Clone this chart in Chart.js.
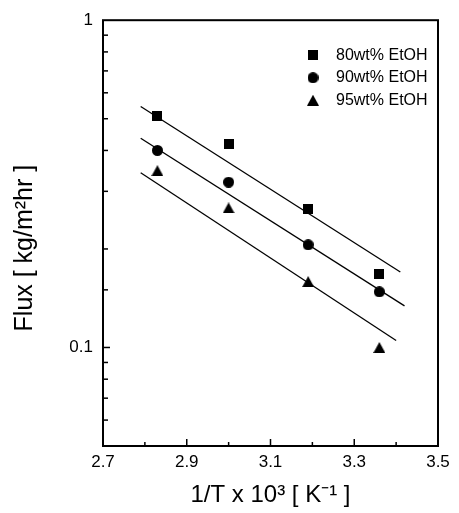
<!DOCTYPE html>
<html>
<head>
<meta charset="utf-8">
<script src="https://cdn.jsdelivr.net/npm/chart.js@4.4.1/dist/chart.umd.min.js"></script>
<style>
  html, body { margin: 0; padding: 0; background: #fff; }
  canvas { display: block; }
</style>
</head>
<body>
<canvas id="flux" width="459" height="513"></canvas>
<script>
// 1/T x 10^3 [K^-1]
const invT = [2.83, 3.00, 3.19, 3.36];
// flux [kg/m2 hr]
const flux80 = [0.51, 0.42, 0.265, 0.168];
const flux90 = [0.40, 0.32, 0.206, 0.148];
const flux95 = [0.347, 0.267, 0.159, 0.100];
// fitted lines, end points
const fit80X = [2.79, 3.41], fit80Y = [0.545, 0.170];
const fit90X = [2.79, 3.42], fit90Y = [0.436, 0.134];
const fit95X = [2.79, 3.40], fit95Y = [0.342, 0.105];
const seriesLabels = ['80wt% EtOH', '90wt% EtOH', '95wt% EtOH'];
const yLabelValues = [0.1, 1];

const FONT = "'Liberation Sans', Arial, sans-serif";

function marker(shape, w, h) {
    const c = document.createElement('canvas');
    c.width = w;
    c.height = h;
    const g = c.getContext('2d');
    g.fillStyle = '#000';
    g.beginPath();
    if (shape === 'square') g.rect(0, 0, w, h);
    else if (shape === 'circle') g.arc(w / 2, h / 2, w / 2, 0, Math.PI * 2);
    else { g.moveTo(w / 2, 0); g.lineTo(w, h); g.lineTo(0, h); g.closePath(); }
    g.fill();
    return c;
}

const pts = (xs, ys) => xs.map((x, i) => ({x: x, y: ys[i]}));

function scatterSet(label, ys, style) {
    return {label: label, data: pts(invT, ys), pointStyle: style, pointRadius: 6,
            showLine: false, backgroundColor: '#000', borderColor: '#000', borderWidth: 0};
}
function fitSet(xs, ys) {
    return {label: 'fit', data: pts(xs, ys), showLine: true, pointRadius: 0,
            borderColor: '#000', borderWidth: 1.3, fill: false};
}

// legend inside the plot (top right); y title pushed a bit lower
const placement = {
    id: 'placement',
    afterUpdate(chart) {
        const lg = chart.legend, ca = chart.chartArea;
        lg.left = ca.right - 146.5;
        lg.top = ca.top + 20.5;
        lg.right = lg.left + lg.width;
        lg.bottom = lg.top + lg.height;
        lg.adjustHitBoxes();

        const ys = chart.scales.y;
        if (!ys._shifted) {
            const orig = ys.drawTitle;
            ys.drawTitle = function () {
                const t = this.top;
                this.top += 30;
                orig.call(this);
                this.top = t;
            };
            ys._shifted = true;
        }
    }
};

// box frame and inward tick marks
const frame = {
    id: 'frame',
    afterDraw(chart) {
        const ctx = chart.ctx, ca = chart.chartArea;
        const xs = chart.scales.x, ys = chart.scales.y;
        const L = ca.left, R = ca.right, T = ca.top, B = ca.bottom;
        ctx.save();
        ctx.setLineDash([]);
        ctx.strokeStyle = '#000';
        ctx.lineWidth = 1.5;
        xs.ticks.forEach(t => {
            const px = xs.getPixelForValue(t.value);
            if (px <= L + 1 || px >= R - 1) return;
            ctx.beginPath();
            ctx.moveTo(px, B);
            ctx.lineTo(px, B - (t.label !== '' ? 7 : 4));
            ctx.stroke();
        });
        ys.ticks.forEach(t => {
            const py = ys.getPixelForValue(t.value);
            if (py <= T + 1 || py >= B - 1) return;
            ctx.beginPath();
            ctx.moveTo(L, py);
            ctx.lineTo(L + (t.label !== '' ? 7 : 5), py);
            ctx.stroke();
        });
        ctx.lineWidth = 2;
        ctx.strokeRect(L, T, R - L, B - T);
        ctx.restore();
    }
};

new Chart(document.getElementById('flux'), {
    type: 'scatter',
    data: {
        datasets: [
            scatterSet(seriesLabels[0], flux80, marker('square', 10, 10)),
            scatterSet(seriesLabels[1], flux90, marker('circle', 11, 11)),
            scatterSet(seriesLabels[2], flux95, marker('triangle', 12, 11)),
            fitSet(fit80X, fit80Y),
            fitSet(fit90X, fit90Y),
            fitSet(fit95X, fit95Y)
        ]
    },
    options: {
        responsive: false,
        animation: false,
        layout: {padding: {left: 0, top: 16, right: 21, bottom: 0}},
        plugins: {
            legend: {
                position: 'chartArea',
                align: 'start',
                labels: {
                    usePointStyle: true,
                    pointStyleWidth: 30,
                    padding: 6.5,
                    color: '#000',
                    font: {family: FONT, size: 16},
                    filter: item => item.datasetIndex < 3
                }
            },
            tooltip: {enabled: false}
        },
        scales: {
            x: {
                type: 'linear',
                min: 2.7,
                max: 3.5,
                afterFit: s => { s.height = 67; },
                grid: {display: false, drawTicks: false},
                border: {display: false},
                ticks: {
                    stepSize: 0.1,
                    autoSkip: false,
                    maxRotation: 0,
                    padding: 6,
                    color: '#000',
                    font: {family: FONT, size: 17},
                    callback: v => (Math.round(v * 10) % 2 === 1 ? v.toFixed(1) : '')
                },
                title: {
                    display: true,
                    text: '1/T x 10³ [ K⁻¹ ]',
                    color: '#000',
                    font: {family: FONT, size: 24},
                    padding: {top: 0, bottom: 3}
                }
            },
            y: {
                type: 'logarithmic',
                min: 0.05,
                max: 1,
                afterFit: s => { s.width = 103; },
                grid: {display: false, drawTicks: false},
                border: {display: false},
                ticks: {
                    autoSkip: false,
                    padding: 10,
                    color: '#000',
                    font: {family: FONT, size: 17},
                    callback: v => (yLabelValues.some(l => Math.abs(l - v) < 1e-9) ? String(v) : '')
                },
                title: {
                    display: true,
                    text: 'Flux [ kg/m²hr ]',
                    color: '#000',
                    font: {family: FONT, size: 25},
                    padding: {top: 10, bottom: 0}
                }
            }
        }
    },
    plugins: [placement, frame]
});
</script>
</body>
</html>
